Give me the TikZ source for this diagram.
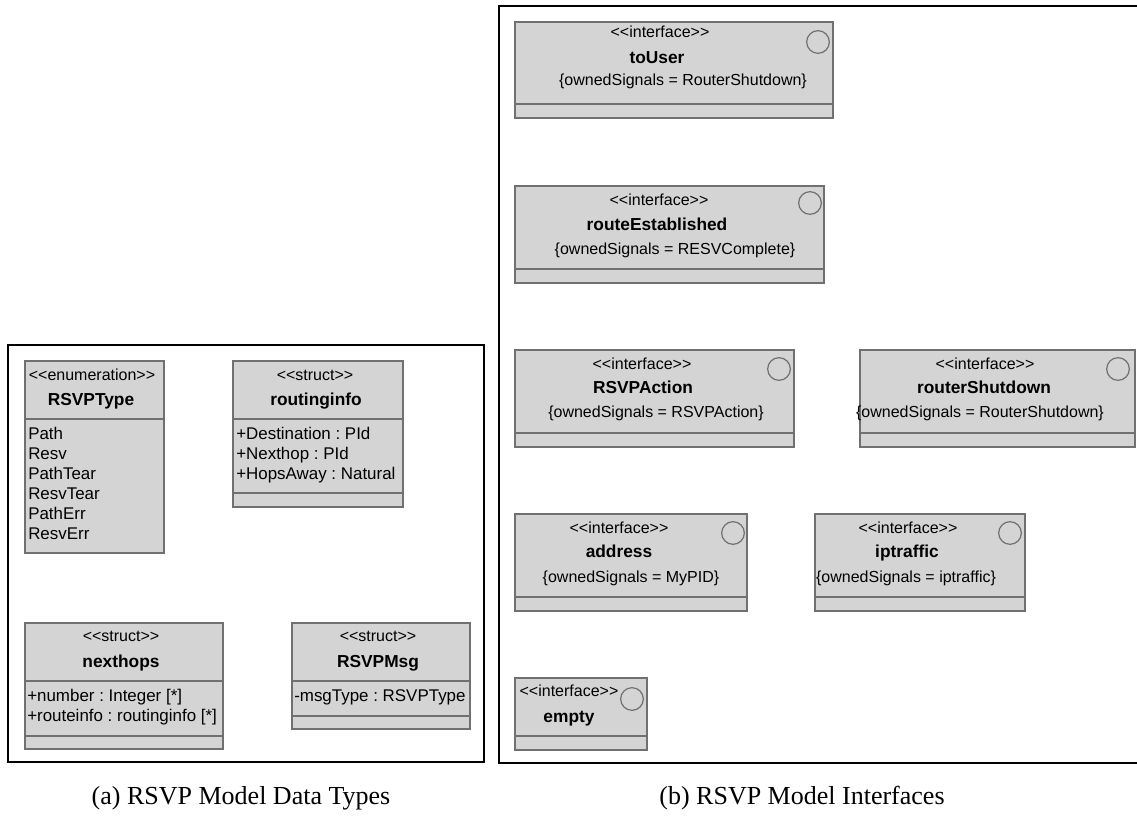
\documentclass[tikz,border=0pt]{standalone}
\usepackage{fontspec}
\setmainfont{Liberation Serif}
\newfontfamily\umlfont{Liberation Sans}
\usetikzlibrary{positioning}
\definecolor{boxgray}{RGB}{212,212,212}
\definecolor{edgegray}{RGB}{112,112,112}
\frenchspacing

\tikzset{
  panelframe/.style={line width=1.6pt, black},
  classbox/.style={draw=edgegray, fill=boxgray, line width=1.1pt},
  classline/.style={draw=edgegray, line width=1.1pt},
  ifacecircle/.style={circle, draw=edgegray, line width=0.9pt, minimum size=17pt, inner sep=0pt},
  txt/.style={inner sep=0pt, text height=0.72em, text depth=0pt},
  stereo/.style={txt, font=\umlfont\fontsize{12}{14}\selectfont},
  cname/.style={txt, font=\umlfont\bfseries\fontsize{13}{15}\selectfont},
  attr/.style={txt, anchor=west, font=\umlfont\fontsize{12.7}{15}\selectfont},
  sig/.style={txt, font=\umlfont\fontsize{12}{14}\selectfont},
  caption/.style={txt, font=\fontsize{19.5}{22}\selectfont}
}

\begin{document}
\begin{tikzpicture}[x=0.75pt, y=-0.75pt]
    \useasboundingbox (0,0) rectangle (1137,816);

    % Panel (a): data types
    \draw[panelframe] (8,345) rectangle (484,762);

    % enumeration RSVPType
    \draw[classbox] (25,361) rectangle (164,553);
    \draw[classline] (25,419) -- (164,419);
    \node[stereo] (rsvptype-st) at (92,376) {<<enumeration>>};
    \node[cname] (rsvptype-name) at (91,401) {RSVPType};
    \foreach \lit [count=\i] in {Path,Resv,PathTear,ResvTear,PathErr,ResvErr}
        \node[attr] (rsvptype-lit\i) at (28,{415+20*\i}) {\lit};

    % struct routinginfo
    \draw[classbox] (233,361) rectangle (403,507);
    \draw[classline] (233,419) -- (403,419);
    \draw[classline] (233,493) -- (403,493);
    \node[stereo] (routing-st) at (315,376) {<<struct>>};
    \node[cname] (routing-name) at (316,401) {routinginfo};
    \node[attr] (routing-a1) at (236,435) {+Destination : PId};
    \node[attr] (routing-a2) at (236,455) {+Nexthop : PId};
    \node[attr] (routing-a3) at (236,475) {+HopsAway : Natural};

    % struct nexthops
    \draw[classbox] (25,623) rectangle (223,749);
    \draw[classline] (25,681) -- (223,681);
    \draw[classline] (25,736) -- (223,736);
    \node[stereo] (nexthops-st) at (121,637) {<<struct>>};
    \node[cname] (nexthops-name) at (121,663) {nexthops};
    \node[attr] (nexthops-a1) at (27,697) {+number : Integer [*]};
    \node[attr] (nexthops-a2) at (27,717) {+routeinfo : routinginfo [*]};

    % struct RSVPMsg
    \draw[classbox] (292,623) rectangle (470,729);
    \draw[classline] (292,681) -- (470,681);
    \draw[classline] (292,716) -- (470,716);
    \node[stereo] (rsvpmsg-st) at (378,637) {<<struct>>};
    \node[cname] (rsvpmsg-name) at (378,663) {RSVPMsg};
    \node[attr] (rsvpmsg-a1) at (294,697) {-msgType : RSVPType};

    % Panel (b): interfaces (right side runs off the page)
    \draw[panelframe] (1140,6) -- (499,6) -- (499,763) -- (1140,763);

    % toUser
    \draw[classbox] (515,22) rectangle (833,118);
    \draw[classline] (515,104) -- (833,104);
    \node[stereo] (touser-st) at (660,33) {<<interface>>};
    \node[cname] (touser-name) at (657,59) {toUser};
    \node[sig] (touser-sig) at (683,81) {\{ownedSignals = RouterShutdown\}};
    \node[ifacecircle] (touser-icon) at (818,42) {};

    % routeEstablished
    \draw[classbox] (515,186) rectangle (824,283);
    \draw[classline] (515,269) -- (824,269);
    \node[stereo] (routeest-st) at (659,201) {<<interface>>};
    \node[cname] (routeest-name) at (657,226) {routeEstablished};
    \node[sig] (routeest-sig) at (675,250) {\{ownedSignals = RESVComplete\}};
    \node[ifacecircle] (routeest-icon) at (810,203) {};

    % RSVPAction
    \draw[classbox] (515,350) rectangle (794,447);
    \draw[classline] (515,433) -- (794,433);
    \node[stereo] (action-st) at (642,365) {<<interface>>};
    \node[cname] (action-name) at (643,389) {RSVPAction};
    \node[sig] (action-sig) at (656,413) {\{ownedSignals = RSVPAction\}};
    \node[ifacecircle] (action-icon) at (779,369) {};

    % routerShutdown
    \draw[classbox] (860,350) rectangle (1135,447);
    \draw[classline] (860,433) -- (1135,433);
    \node[stereo] (shutdown-st) at (985,365) {<<interface>>};
    \node[cname] (shutdown-name) at (984,389) {routerShutdown};
    \node[sig] (shutdown-sig) at (980,413) {\{ownedSignals = RouterShutdown\}};
    \node[ifacecircle] (shutdown-icon) at (1118,369) {};

    % address
    \draw[classbox] (515,514) rectangle (747,611);
    \draw[classline] (515,597) -- (747,597);
    \node[stereo] (address-st) at (619,529) {<<interface>>};
    \node[cname] (address-name) at (619,553) {address};
    \node[sig] (address-sig) at (631,578) {\{ownedSignals = MyPID\}};
    \node[ifacecircle] (address-icon) at (733,533) {};

    % iptraffic
    \draw[classbox] (815,514) rectangle (1025,611);
    \draw[classline] (815,597) -- (1025,597);
    \node[stereo] (iptraffic-st) at (908,529) {<<interface>>};
    \node[cname] (iptraffic-name) at (907,553) {iptraffic};
    \node[sig] (iptraffic-sig) at (906,578) {\{ownedSignals = iptraffic\}};
    \node[ifacecircle] (iptraffic-icon) at (1010,533) {};

    % empty
    \draw[classbox] (515,678) rectangle (647,750);
    \draw[classline] (515,736) -- (647,736);
    \node[stereo] (empty-st) at (569,692) {<<interface>>};
    \node[cname] (empty-name) at (569,718) {empty};
    \node[ifacecircle] (empty-icon) at (632,699) {};

    % sub-captions
    \node[caption] (cap-a) at (241,800) {(a) RSVP Model Data Types};
    \node[caption] (cap-b) at (802,800) {(b) RSVP Model Interfaces};
\end{tikzpicture}
\end{document}
